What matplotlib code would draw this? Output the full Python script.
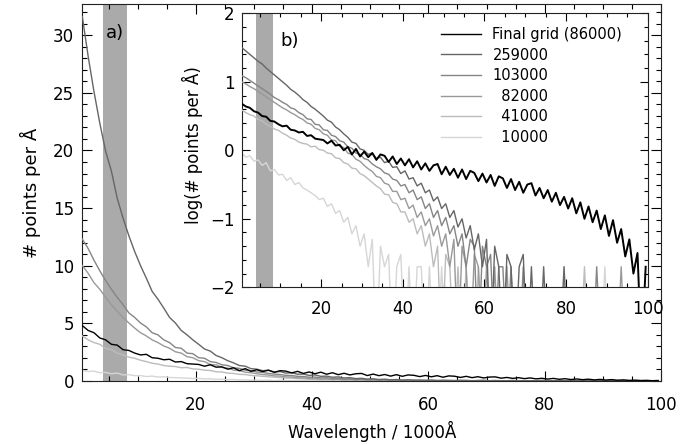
#!/usr/bin/env python3
"""Grid-point density vs wavelength: linear panel a) with log inset b)."""

import numpy as np
import matplotlib

matplotlib.use("Agg")
import matplotlib.pyplot as plt
from matplotlib.ticker import MultipleLocator

plt.rcParams.update(
    {
        "font.family": ["DejaVu Sans"],
        "font.size": 12,
        "axes.linewidth": 0.8,
    }
)

E = np.nan  # empty bin (no grid points)

# wavelength bin centres, in 1000 A
WAVE = np.arange(0.5, 100.0, 1.0)

# log10(# points per A), read off panel b)
LOG_FINAL = [
    0.68, 0.64, 0.62, 0.57, 0.55, 0.50, 0.49, 0.43, 0.42, 0.38,
    0.35, 0.36, 0.30, 0.29, 0.26, 0.27, 0.21, 0.22, 0.17, 0.16,
    0.15, 0.10, 0.14, 0.07, 0.08, 0.00, 0.05, -0.06, 0.02, -0.09,
    -0.02, -0.10, -0.04, -0.14, -0.06, -0.08, -0.17, -0.09, -0.20, -0.12,
    -0.22, -0.13, -0.25, -0.16, -0.28, -0.19, -0.30, -0.22, -0.20, -0.35,
    -0.24, -0.36, -0.27, -0.40, -0.28, -0.42, -0.30, -0.33, -0.45, -0.34,
    -0.47, -0.36, -0.52, -0.38, -0.41, -0.55, -0.42, -0.58, -0.46, -0.62,
    -0.50, -0.48, -0.66, -0.55, -0.70, -0.58, -0.75, -0.62, -0.80, -0.68,
    -0.85, -0.70, -0.92, -0.76, -1.00, -0.82, -1.05, -0.88, -1.15, -0.95,
    -1.25, -1.02, -1.35, -1.15, -1.55, -1.30, -1.80, -1.50, E, -1.70,
]
LOG_259000 = [
    1.50, 1.45, 1.40, 1.35, 1.30, 1.26, 1.20, 1.15, 1.10, 1.05,
    1.00, 0.95, 0.89, 0.85, 0.80, 0.74, 0.70, 0.64, 0.60, 0.55,
    0.50, 0.44, 0.41, 0.34, 0.30, 0.24, 0.19, 0.12, 0.10, 0.02,
    0.00, -0.06, -0.04, -0.12, -0.10, -0.18, -0.16, -0.25, -0.24, -0.34,
    -0.30, -0.42, -0.40, -0.52, -0.48, -0.62, -0.58, -0.74, -0.68, -0.85,
    -0.78, -0.98, -0.88, -1.12, -1.00, -1.28, -1.10, -1.45, -1.22, -1.70,
    -1.30, E, -1.40, -1.70, E, -1.52, -1.70, E, -1.70, -1.52,
    E, -1.70, E, E, -1.70, E, E, E, E, -1.70,
    E, E, E, E, E, E, E, E, E, E,
    E, E, E, E, E, E, E, E, E, E,
]
LOG_103000 = [
    1.09, 1.06, 1.02, 0.98, 0.94, 0.90, 0.86, 0.82, 0.77, 0.74,
    0.70, 0.67, 0.62, 0.60, 0.55, 0.52, 0.46, 0.45, 0.38, 0.37,
    0.30, 0.29, 0.22, 0.20, 0.14, 0.12, 0.05, 0.03, -0.04, -0.06,
    -0.12, -0.14, -0.20, -0.24, -0.27, -0.33, -0.35, -0.42, -0.44, -0.52,
    -0.50, -0.62, -0.58, -0.72, -0.68, -0.85, -0.78, -0.98, -0.88, -1.10,
    -0.98, -1.22, -1.10, -1.40, -1.22, -1.70, -1.30, -1.40, E, -1.40,
    -1.70, -1.52, E, -1.70, -1.70, E, -1.70, E, E, -1.70,
    E, E, E, E, E, E, E, E, E, E,
    E, E, E, E, E, E, E, -1.70, E, E,
    E, E, E, E, E, E, E, E, E, E,
]
LOG_82000 = [
    1.00, 0.97, 0.93, 0.90, 0.86, 0.82, 0.78, 0.74, 0.70, 0.66,
    0.62, 0.59, 0.55, 0.52, 0.48, 0.45, 0.40, 0.38, 0.32, 0.30,
    0.24, 0.22, 0.15, 0.14, 0.06, 0.04, -0.04, -0.06, -0.13, -0.16,
    -0.22, -0.27, -0.31, -0.38, -0.40, -0.48, -0.50, -0.60, -0.60, -0.72,
    -0.70, -0.85, -0.80, -0.98, -0.90, -1.10, -1.00, -1.25, -1.10, -1.40,
    -1.22, -1.70, -1.30, E, -1.40, -1.70, E, -1.52, -1.70, E,
    -1.70, E, -1.70, E, E, -1.70, E, E, E, E,
    E, E, E, E, E, E, E, E, E, E,
    E, E, E, E, E, E, E, E, E, E,
    E, E, E, -1.70, E, E, E, E, E, E,
]
LOG_41000 = [
    0.59, 0.55, 0.52, 0.50, 0.45, 0.43, 0.38, 0.35, 0.31, 0.29,
    0.25, 0.22, 0.18, 0.16, 0.12, 0.10, 0.09, 0.05, 0.06, 0.01,
    0.00, -0.04, -0.05, -0.11, -0.12, -0.18, -0.20, -0.26, -0.27, -0.34,
    -0.37, -0.42, -0.47, -0.52, -0.56, -0.64, -0.65, -0.76, -0.78, -0.90,
    -0.90, -1.05, -1.00, -1.22, -1.10, -1.40, -1.22, -1.70, -1.40, E,
    -1.52, -1.70, E, -1.70, E, -1.70, E, E, -1.70, E,
    E, E, E, E, E, E, E, E, E, E,
    E, E, E, E, E, E, E, E, E, E,
    E, E, E, E, -1.70, E, E, E, E, E,
    E, E, E, E, E, E, E, E, E, E,
]
LOG_10000 = [
    -0.04, -0.10, -0.08, -0.16, -0.14, -0.22, -0.18, -0.30, -0.28, -0.36,
    -0.35, -0.44, -0.40, -0.50, -0.47, -0.55, -0.58, -0.62, -0.66, -0.72,
    -0.70, -0.82, -0.78, -0.92, -0.88, -1.05, -0.98, -1.22, -1.10, -1.40,
    -1.22, -1.70, -1.30, E, -1.40, -1.70, -1.52, E, -1.70, -1.52,
    E, -1.70, E, -1.70, -1.70, E, -1.70, E, E, -1.70,
    E, E, E, E, E, E, E, E, E, E,
    E, E, E, E, E, E, E, E, E, E,
    E, E, E, E, E, E, E, E, E, -1.70,
    E, E, E, E, E, E, E, E, E, -1.70,
    E, E, E, E, E, E, E, E, E, E,
]

SERIES = [
    ("Final grid (86000)", LOG_FINAL, "#000000"),
    ("259000", LOG_259000, "#666666"),
    ("103000", LOG_103000, "#858585"),
    ("  82000", LOG_82000, "#999999"),
    ("  41000", LOG_41000, "#bcbcbc"),
    ("  10000", LOG_10000, "#d6d6d6"),
]

# excluded wavelength band (1000 A)
BAND = (4.0, 8.1)
BAND_COLOR = "#aaaaaa"
LOG_FLOOR = -3.0  # where empty bins are drawn in the log panel


def style_axis(ax, major_len, minor_len):
    ax.tick_params(which="both", direction="in", top=True, right=True, width=0.8)
    ax.tick_params(which="major", length=major_len)
    ax.tick_params(which="minor", length=minor_len)
    for sp in ax.spines.values():
        sp.set_color("#222222")


def main():
    fig = plt.figure(figsize=(6.96, 4.45), dpi=100)
    ax = fig.add_axes([0.1183, 0.1445, 0.8315, 0.8458])
    ins = fig.add_axes([0.3473, 0.3544, 0.5833, 0.6157])

    # panel a): linear density
    ax.axvspan(*BAND, color=BAND_COLOR, lw=0, zorder=0)
    for i, (label, logv, color) in enumerate(reversed(SERIES)):
        dens = np.nan_to_num(10.0 ** np.asarray(logv, dtype=float), nan=0.0)
        ax.plot(WAVE, dens, color=color, lw=1.0, zorder=2 + i)
    ax.set_xlim(0.5, 100.0)
    ax.set_ylim(0, 32.7)
    ax.xaxis.set_major_locator(MultipleLocator(20))
    ax.xaxis.set_minor_locator(MultipleLocator(5))
    ax.yaxis.set_major_locator(MultipleLocator(5))
    ax.yaxis.set_minor_locator(MultipleLocator(1))
    style_axis(ax, 7.2, 3.6)
    ax.tick_params(axis="x", which="major", pad=11)
    ax.tick_params(axis="y", which="major", pad=6)
    ax.set_xlabel("Wavelength / 1000Å", fontsize=12)
    ax.xaxis.set_label_coords(0.5, -0.108)
    ax.set_ylabel("# points per Å", fontsize=13)
    ax.yaxis.set_label_coords(-0.072, 0.5)
    ax.text(0.041, 0.925, "a)", transform=ax.transAxes, fontsize=13,
            ha="left", va="center")

    # panel b): log density
    ins.set_facecolor("white")
    ins.axvspan(*BAND, color=BAND_COLOR, lw=0, zorder=0)
    handles = {}
    for i, (label, logv, color) in enumerate(reversed(SERIES)):
        logd = np.asarray(logv, dtype=float)
        logd = np.where(np.isnan(logd), LOG_FLOOR, logd)
        lw = 1.4 if color == "#000000" else 1.0
        (ln,) = ins.plot(WAVE, logd, color=color, lw=lw, zorder=2 + i, label=label)
        handles[label] = ln
    ins.set_xlim(0.5, 100.0)
    ins.set_ylim(-2.0, 2.0)
    ins.xaxis.set_major_locator(MultipleLocator(20))
    ins.xaxis.set_minor_locator(MultipleLocator(5))
    ins.yaxis.set_major_locator(MultipleLocator(1))
    ins.yaxis.set_minor_locator(MultipleLocator(0.2))
    style_axis(ins, 5.5, 2.7)
    ins.tick_params(axis="x", which="major", pad=9)
    ins.tick_params(axis="y", which="major", pad=5)
    ins.set_ylabel("log(# points per Å)", fontsize=12)
    ins.yaxis.set_label_coords(-0.095, 0.52)
    ins.text(0.096, 0.9, "b)", transform=ins.transAxes, fontsize=13,
             ha="left", va="center")

    order = [s[0] for s in SERIES]
    leg = ins.legend(
        [handles[k] for k in order],
        order,
        loc="upper left",
        bbox_to_anchor=(0.49, 0.95),
        frameon=False,
        fontsize=10.5,
        handlelength=2.8,
        handletextpad=0.75,
        labelspacing=0.38,
        borderpad=0.0,
        borderaxespad=0.0,
    )
    for h in leg.legend_handles:
        h.set_linewidth(1.0)

    fig.savefig("out.png", dpi=100)
    plt.close(fig)


if __name__ == "__main__":
    main()
